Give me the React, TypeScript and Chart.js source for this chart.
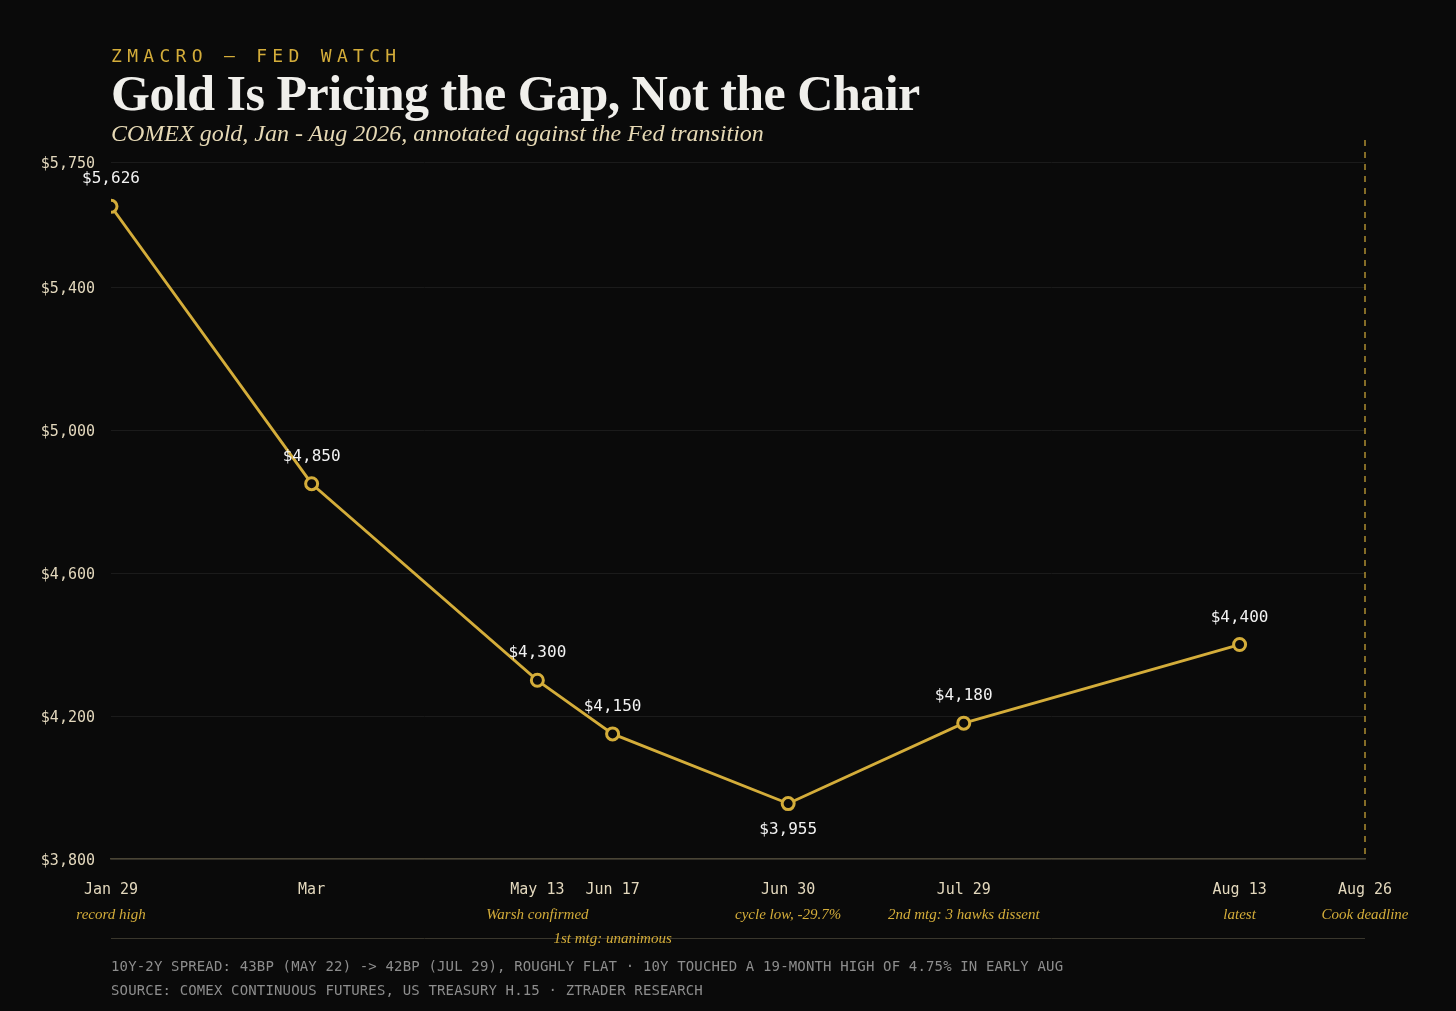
import { useEffect, useRef } from "react";
import { Chart, registerables } from "chart.js";

Chart.register(...registerables);

// x positions are spaced like the original layout, not by calendar days
const dates = ["Jan 29", "Mar", "May 13", "Jun 17", "Jun 30", "Jul 29", "Aug 13", "Aug 26"];
const datePositions = [0, 1.6, 3.4, 4.0, 5.4, 6.8, 9.0, 10];
const notes = [
  "record high",
  "",
  "Warsh confirmed",
  "1st mtg: unanimous",
  "cycle low, -29.7%",
  "2nd mtg: 3 hawks dissent",
  "latest",
  "Cook deadline",
];
const noteRows = [0, 0, 0, 1, 0, 0, 0, 0];
const goldPrices = [5626, 4850, 4300, 4150, 3955, 4180, 4400];
const yTicks = [3800, 4200, 4600, 5000, 5400, 5750];
const deadlineIndex = 7;

const BG = "#0a0a0a";
const GOLD = "#d4ad3a";
const CREAM = "#e3d8bd";
const MONO = "'DejaVu Sans Mono', monospace";
const SERIF = "'Liberation Serif', serif";

const fmt = (v: number) => "$" + v.toLocaleString("en-US");

const annotations = {
  id: "annotations",
  beforeDatasetsDraw(chart: any) {
    const { ctx, chartArea, scales } = chart;
    const x = scales.x.getPixelForValue(datePositions[deadlineIndex]);
    ctx.save();
    ctx.strokeStyle = "rgba(212,173,58,0.8)";
    ctx.lineWidth = 1.5;
    ctx.setLineDash([6, 6]);
    ctx.beginPath();
    ctx.moveTo(x, chartArea.top - 22);
    ctx.lineTo(x, chartArea.bottom);
    ctx.stroke();
    ctx.restore();
  },
  afterDatasetsDraw(chart: any) {
    const { ctx, chartArea, scales } = chart;
    const meta = chart.getDatasetMeta(0);
    const low = Math.min(...goldPrices);
    ctx.save();
    ctx.textAlign = "center";
    ctx.textBaseline = "middle";
    ctx.font = `16px ${MONO}`;
    ctx.fillStyle = "#f2f2f2";
    meta.data.forEach((pt: any, i: number) => {
      const v = goldPrices[i];
      const y = v === low ? pt.y + 26 : pt.y - 27;
      ctx.fillText(fmt(v), pt.x, y);
    });

    // bottom rule
    ctx.strokeStyle = "#3a372d";
    ctx.lineWidth = 1;
    ctx.beginPath();
    ctx.moveTo(chartArea.left, chartArea.bottom + 79.5);
    ctx.lineTo(chartArea.right, chartArea.bottom + 79.5);
    ctx.stroke();

    // event notes under the dates
    ctx.font = `italic 15px ${SERIF}`;
    ctx.fillStyle = GOLD;
    notes.forEach((n, i) => {
      if (!n) return;
      const x = scales.x.getPixelForValue(datePositions[i]);
      ctx.fillText(n, x, chartArea.bottom + 56 + noteRows[i] * 24);
    });
    ctx.restore();
  },
};

function GoldChart() {
  const canvasRef = useRef<HTMLCanvasElement>(null);

  useEffect(() => {
    if (!canvasRef.current) return;
    const chart = new Chart(canvasRef.current, {
      type: "line",
      data: {
        datasets: [
          {
            data: goldPrices.map((v, i) => ({ x: datePositions[i], y: v })),
            borderColor: GOLD,
            borderWidth: 2.8,
            pointRadius: 6,
            pointBorderWidth: 3,
            pointBackgroundColor: BG,
            pointBorderColor: GOLD,
            tension: 0,
          },
        ],
      },
      options: {
        animation: false,
        responsive: false,
        maintainAspectRatio: false,
        layout: { padding: { left: 0, right: 91, top: 162, bottom: 112 } },
        plugins: { legend: { display: false }, tooltip: { enabled: false } },
        scales: {
          x: {
            type: "linear",
            min: 0,
            max: 10,
            afterBuildTicks: (s: any) => {
              s.ticks = datePositions.map((v) => ({ value: v }));
            },
            afterFit: (s: any) => {
              s.height = 40;
            },
            ticks: {
              autoSkip: false,
              maxRotation: 0,
              padding: 22,
              color: CREAM,
              font: { family: MONO, size: 15 },
              callback: (v: any) => dates[datePositions.indexOf(Number(v))],
            },
            grid: { display: false, drawTicks: false },
            border: { color: "#4a4535", width: 1.5 },
          },
          y: {
            min: 3800,
            max: 5750,
            afterBuildTicks: (s: any) => {
              s.ticks = yTicks.map((v) => ({ value: v }));
            },
            afterFit: (s: any) => {
              s.width = 111;
            },
            ticks: {
              padding: 16,
              labelOffset: 2,
              color: CREAM,
              font: { family: MONO, size: 15 },
              callback: (v: any) => fmt(Number(v)),
            },
            grid: { color: "#1b1b1b", drawTicks: false },
            border: { display: false },
          },
        },
      },
      plugins: [annotations],
    });
    return () => chart.destroy();
  }, []);

  return <canvas ref={canvasRef} width={1456} height={1011} style={{ position: "absolute", left: 0, top: 0 }} />;
}

export default function App() {
  return (
    <div style={{ position: "absolute", left: 0, top: 0, width: 1456, height: 1011, background: BG, overflow: "hidden" }}>
      <GoldChart />
      <div style={{ position: "absolute", left: 111, top: 47, font: `18px ${MONO}`, lineHeight: "18px", letterSpacing: "5.3px", color: GOLD }}>
        ZMACRO — FED WATCH
      </div>
      <div style={{ position: "absolute", left: 111, top: 68, font: `bold 50px ${SERIF}`, lineHeight: "50px", letterSpacing: "-0.5px", color: "#f0efeb", whiteSpace: "nowrap" }}>
        Gold Is Pricing the Gap, Not the Chair
      </div>
      <div style={{ position: "absolute", left: 111, top: 121, font: `italic 24px ${SERIF}`, lineHeight: "24px", color: "#e6d9b5", whiteSpace: "nowrap" }}>
        COMEX gold, Jan - Aug 2026, annotated against the Fed transition
      </div>
      <div style={{ position: "absolute", left: 111, top: 959, font: `14px ${MONO}`, lineHeight: "14px", letterSpacing: "0.15px", color: "#8d8d8d", whiteSpace: "nowrap" }}>
        10Y-2Y SPREAD: 43BP (MAY 22) -&gt; 42BP (JUL 29), ROUGHLY FLAT · 10Y TOUCHED A 19-MONTH HIGH OF 4.75% IN EARLY AUG
      </div>
      <div style={{ position: "absolute", left: 111, top: 983, font: `14px ${MONO}`, lineHeight: "14px", letterSpacing: "0.15px", color: "#8d8d8d", whiteSpace: "nowrap" }}>
        SOURCE: COMEX CONTINUOUS FUTURES, US TREASURY H.15 · ZTRADER RESEARCH
      </div>
    </div>
  );
}
